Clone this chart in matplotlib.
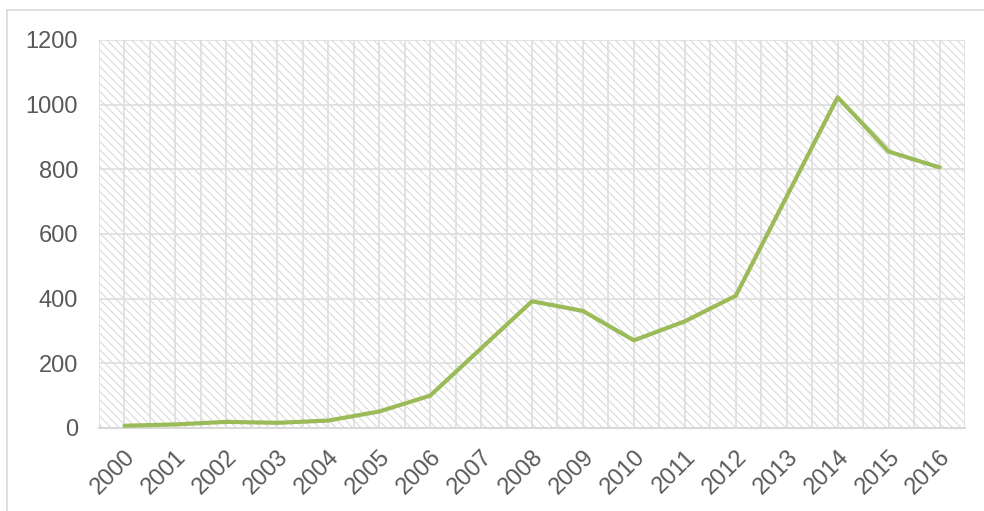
import matplotlib
matplotlib.use('Agg')
import matplotlib.pyplot as plt
from matplotlib.lines import Line2D
from matplotlib.ticker import FixedLocator

years = [str(y) for y in range(2000, 2017)]
counts = [7, 11, 19, 16, 23, 51, 100, 246, 392, 362, 271, 330, 409, 716, 1023, 855, 806]
y_ticks = [0, 200, 400, 600, 800, 1000, 1200]

plt.rcParams['font.family'] = ['Liberation Sans', 'DejaVu Sans']
plt.rcParams['hatch.color'] = '#dadada'
plt.rcParams['hatch.linewidth'] = 0.8

grid_col = '#dedede'
text_col = '#595959'

fig = plt.figure(figsize=(9.84, 5.11), dpi=100)
ax = fig.add_axes([99 / 984, 1 - 428 / 511, 866 / 984, 388 / 511])

# hatched plot-area background
ax.add_patch(plt.Rectangle((0, 0), 1, 1, transform=ax.transAxes,
                           facecolor='white', edgecolor='#dadada', linewidth=0,
                           hatch='\\\\\\\\', zorder=0))

x = list(range(len(years)))
ax.plot(x, counts, color='#9bbb59', linewidth=3.0,
        solid_joinstyle='round', solid_capstyle='round', zorder=3)

ax.set_xlim(-0.5, len(years) - 0.5)
ax.set_ylim(0, 1200)
ax.set_yticks(y_ticks)
ax.set_xticks(x)
ax.set_xticklabels(years, rotation=45, ha='right', rotation_mode='anchor')
ax.xaxis.set_minor_locator(FixedLocator([i - 0.5 for i in range(len(years) + 1)]))

ax.grid(True, which='major', color=grid_col, linewidth=1.2, zorder=1)
ax.grid(True, which='minor', axis='x', color=grid_col, linewidth=1.2, zorder=1)
ax.set_axisbelow(True)

for side in ('top', 'right', 'left'):
    ax.spines[side].set_visible(False)
ax.spines['bottom'].set_color('#d9d9d9')
ax.spines['bottom'].set_linewidth(1.5)

ax.tick_params(axis='both', which='both', length=0, labelsize=17, colors=text_col)
ax.tick_params(axis='y', pad=15)
ax.tick_params(axis='x', pad=13)

# chart frame
W, H = 984, 511
fig.add_artist(Line2D([7 / W, 7 / W], [0, 1 - 10 / H], color='#d9d9d9', linewidth=1.2))
fig.add_artist(Line2D([7 / W, 1], [1 - 10 / H, 1 - 10 / H], color='#d9d9d9', linewidth=1.2))

fig.savefig('out.png', dpi=100)
